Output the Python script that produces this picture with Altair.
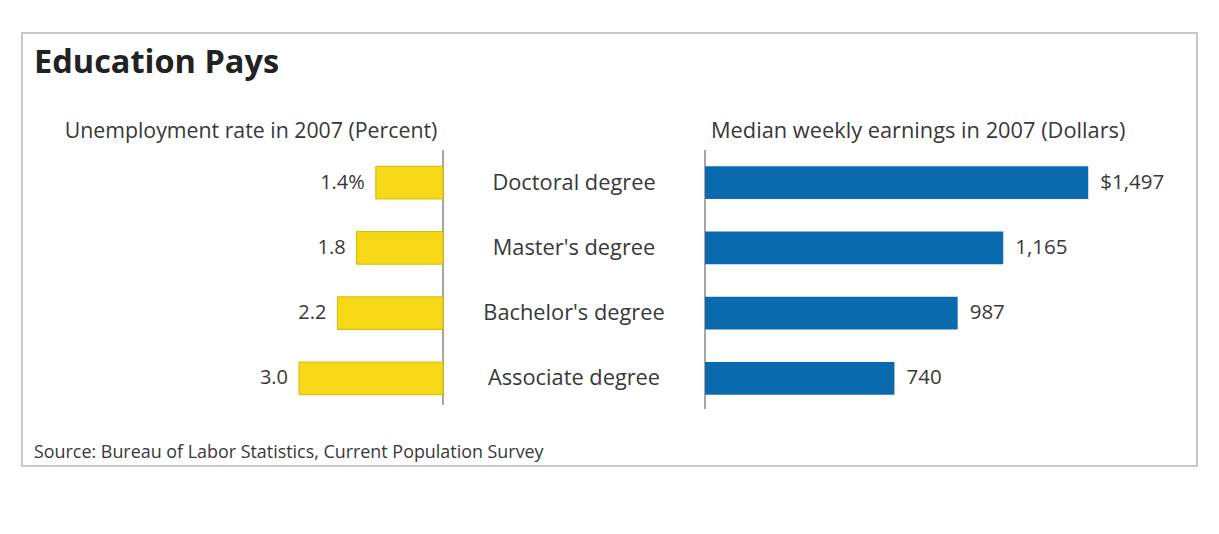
import altair as alt
import pandas as pd

degrees = ["Doctoral degree", "Master's degree", "Bachelor's degree", "Associate degree"]
unemployment = [1.4, 1.8, 2.2, 3.0]
unemployment_labels = ["1.4%", "1.8", "2.2", "3.0"]
earnings = [1497, 1165, 987, 740]
earnings_labels = ["$1,497", "1,165", "987", "740"]

title_text = "Education Pays"
left_heading = "Unemployment rate in 2007 (Percent)"
right_heading = "Median weekly earnings in 2007 (Dollars)"
source_text = "Source: Bureau of Labor Statistics, Current Population Survey"

df = pd.DataFrame({
    "degree": degrees,
    "unemp": unemployment,
    "unemp_label": unemployment_labels,
    "earn": earnings,
    "earn_label": earnings_labels,
})
one = pd.DataFrame({"k": [0]})

FONT = "Open Sans"
TXT = "#383838"
W, H = 1175, 433

yenc = alt.Y("degree:N", sort=degrees,
             scale=alt.Scale(range=[117, 378], paddingInner=0.5, paddingOuter=0.25),
             axis=None)

xl = alt.X("unemp:Q", scale=alt.Scale(domain=[0, 3], range=[421, 277]), axis=None)
left_bars = alt.Chart(df).mark_bar(color="#F6D816", stroke="#D9B800", strokeWidth=1).encode(x=xl, y=yenc)
left_text = alt.Chart(df).mark_text(align="right", baseline="middle", dx=-11, font=FONT,
                                     fontSize=20, color=TXT).encode(x=xl, y=yenc, text="unemp_label:N")
left = alt.layer(left_bars, left_text)

xr = alt.X("earn:Q", scale=alt.Scale(domain=[0, 1500], range=[683, 1067]), axis=None)
right_bars = alt.Chart(df).mark_bar(color="#0B69AE").encode(x=xr, y=yenc)
right_text = alt.Chart(df).mark_text(align="left", baseline="middle", dx=12, font=FONT,
                                      fontSize=20.5, color=TXT).encode(x=xr, y=yenc, text="earn_label:N")
right = alt.layer(right_bars, right_text)

mid = alt.Chart(df).mark_text(align="center", baseline="middle", font=FONT, fontSize=21.8,
                              color=TXT).encode(x=alt.value(552), y=yenc, text="degree:N")

rule_l = alt.Chart(one).mark_rule(color="#888888", strokeWidth=1.5).encode(
    x=alt.value(421), y=alt.value(117), y2=alt.value(372))
rule_r = alt.Chart(one).mark_rule(color="#888888", strokeWidth=1.5).encode(
    x=alt.value(683), y=alt.value(117), y2=alt.value(376))

title = alt.Chart(one).mark_text(align="left", baseline="alphabetic", font=FONT, fontSize=32.5,
                                 fontWeight="bold", color="#222222", text=title_text).encode(
    x=alt.value(12), y=alt.value(40))
lh = alt.Chart(one).mark_text(align="center", baseline="alphabetic", font=FONT, fontSize=21.3,
                              color=TXT, text=left_heading).encode(x=alt.value(229), y=alt.value(105))
rh = alt.Chart(one).mark_text(align="left", baseline="alphabetic", font=FONT, fontSize=21.8,
                              color=TXT, text=right_heading).encode(x=alt.value(689), y=alt.value(105))
src = alt.Chart(one).mark_text(align="left", baseline="alphabetic", font=FONT, fontSize=17.9,
                               color=TXT, text=source_text).encode(x=alt.value(12), y=alt.value(425))

chart = alt.layer(rule_l, rule_r, left, right, mid, title, lh, rh, src).resolve_scale(
    x="independent"
).properties(
    width=W, height=H,
    autosize=alt.AutoSizeParams(type="none"),
    padding={"left": 14, "top": 25, "right": 4, "bottom": 4},
    background="white",
).configure_view(stroke="#C8C8C8", strokeWidth=2)

chart.save("out.html", embed_options={"renderer": "svg", "actions": False})
